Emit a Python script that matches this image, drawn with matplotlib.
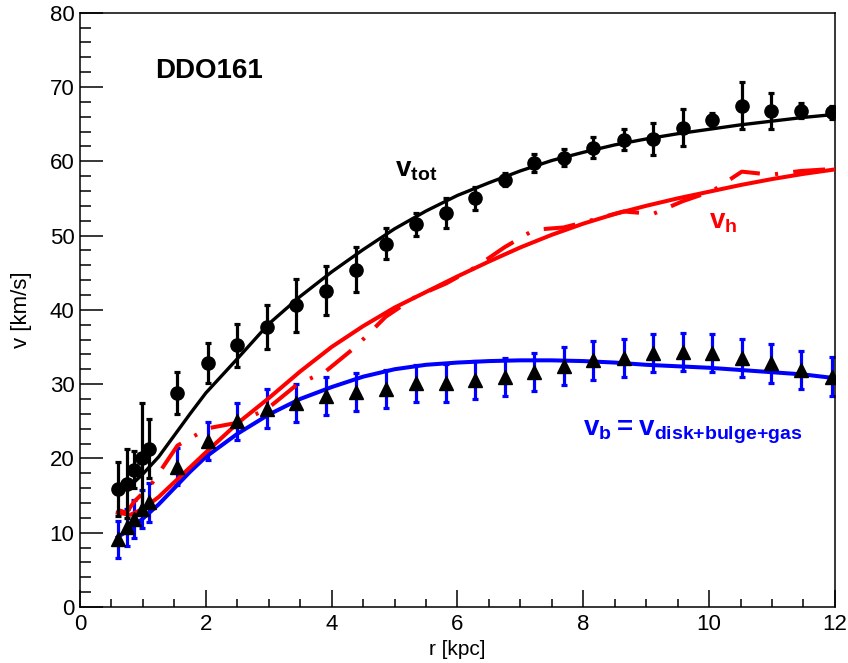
import matplotlib
matplotlib.use("Agg")
import matplotlib.pyplot as plt
from matplotlib.ticker import MultipleLocator

# measured rotation curve of DDO161
r_kpc = [0.61, 0.74, 0.86, 0.98, 1.09, 1.55, 2.03, 2.49, 2.97, 3.44,
         3.91, 4.38, 4.86, 5.34, 5.82, 6.28, 6.75, 7.22, 7.69, 8.16,
         8.64, 9.11, 9.58, 10.05, 10.52, 10.98, 11.46, 11.95]
v_tot = [15.9, 16.6, 18.5, 20.1, 21.3, 28.8, 32.8, 35.2, 37.7, 40.6,
         42.6, 45.4, 48.9, 51.5, 53.0, 55.0, 57.5, 59.8, 60.5, 61.8,
         62.9, 63.0, 64.5, 65.6, 67.5, 66.8, 66.8, 66.6]
v_tot_err = [3.6, 4.6, 2.5, 7.4, 4.0, 2.8, 2.7, 2.9, 3.0, 3.6,
             3.3, 3.0, 2.1, 1.5, 2.0, 1.5, 0.9, 1.2, 1.2, 1.4,
             1.4, 2.2, 2.5, 0.9, 3.2, 2.4, 1.0, 0.9]

# baryonic part (disk + bulge + gas)
v_bar = [9.1, 10.7, 11.9, 13.2, 14.1, 18.9, 22.3, 25.0, 26.7, 27.5,
         28.4, 28.9, 29.4, 30.1, 30.2, 30.6, 31.0, 31.6, 32.4, 33.2,
         33.5, 34.2, 34.3, 34.2, 33.5, 32.8, 31.9, 31.0]
v_bar_err = [2.5, 2.55, 2.55, 2.6, 2.6, 2.5, 2.55, 2.5, 2.6, 2.55,
             2.55, 2.55, 2.55, 2.5, 2.55, 2.55, 2.55, 2.55, 2.55, 2.6,
             2.6, 2.6, 2.6, 2.6, 2.6, 2.6, 2.6, 2.6]

# halo contribution at the measured radii
v_halo = [13.04, 12.69, 14.17, 15.16, 15.97, 21.73, 24.05, 24.78, 26.62, 29.87,
          31.75, 35.01, 39.07, 41.79, 43.55, 45.70, 48.43, 50.77, 51.09, 52.12,
          53.24, 52.91, 54.62, 55.98, 58.60, 58.19, 58.69, 58.95]

# fitted model curves
r_fit = [0.6, 0.8, 1.0, 1.25, 1.5, 1.75, 2.0, 2.5, 3.0, 3.5, 4.0, 4.5, 5.0,
         5.5, 6.0, 6.5, 7.0, 7.5, 8.0, 8.5, 9.0, 9.5, 10.0, 10.5, 11.0,
         11.5, 12.0]
v_tot_fit = [15.8, 16.3, 17.9, 20.2, 23.1, 26.0, 28.8, 33.4, 38.1, 41.8,
             45.1, 48.1, 50.9, 53.3, 55.4, 57.1, 58.7, 60.1, 61.2, 62.2,
             63.0, 63.7, 64.3, 64.9, 65.4, 65.9, 66.3]
v_halo_fit = [12.7, 12.4, 13.2, 14.8, 16.8, 18.8, 20.8, 24.7, 28.1, 31.7,
              35.0, 37.8, 40.3, 42.4, 44.5, 46.5, 48.4, 50.1, 51.6, 52.9,
              54.0, 55.0, 55.9, 56.8, 57.6, 58.3, 58.9]
v_bar_fit = [9.4, 10.5, 11.9, 13.8, 16.0, 18.2, 20.2, 23.3, 25.9, 28.0,
             29.6, 31.0, 32.0, 32.6, 32.9, 33.1, 33.2, 33.2, 33.1, 32.9,
             32.6, 32.4, 32.2, 31.9, 31.6, 31.3, 30.8]

RED = "#ff0000"
BLUE = "#0000ff"

plt.rcParams["font.family"] = ["Liberation Sans", "DejaVu Sans"]
plt.rcParams["mathtext.fontset"] = "custom"
plt.rcParams["mathtext.rm"] = "Liberation Sans"
plt.rcParams["mathtext.bf"] = "Liberation Sans:bold"
plt.rcParams["lines.scale_dashes"] = False


def setup_axes(ax):
    ax.set_xlim(0, 12)
    ax.set_ylim(0, 80)
    ax.xaxis.set_major_locator(MultipleLocator(2))
    ax.xaxis.set_minor_locator(MultipleLocator(0.5))
    ax.yaxis.set_major_locator(MultipleLocator(10))
    ax.yaxis.set_minor_locator(MultipleLocator(2))
    ax.tick_params(axis="both", which="both", direction="in",
                   top=False, right=False, width=1.1, labelsize=16)
    ax.tick_params(axis="y", which="major", length=16.5, pad=4)
    ax.tick_params(axis="y", which="minor", length=8)
    ax.tick_params(axis="x", which="major", length=12, pad=5)
    ax.tick_params(axis="x", which="minor", length=6)
    for sp in ax.spines.values():
        sp.set_linewidth(1.1)

    ax.set_xlabel("r [kpc]", fontsize=15)
    ax.set_ylabel("v [km/s]", fontsize=16)
    ax.xaxis.set_label_coords(0.5, -0.055)
    ax.yaxis.set_label_coords(-0.064, 0.5)


def draw(ax):
    # baryonic points: blue bars, black triangles
    ax.errorbar(r_kpc, v_bar, yerr=v_bar_err, fmt="none", ecolor=BLUE,
                elinewidth=2.3, capsize=2.4, capthick=2.3, zorder=2)

    ax.plot(r_fit, v_bar_fit, color=BLUE, lw=2.9, zorder=3)
    ax.plot(r_fit, v_halo_fit, color=RED, lw=2.9, zorder=3)
    ax.plot(r_kpc, v_halo, color=RED, lw=2.9, zorder=3,
            linestyle=(0, (23, 11, 2.2, 11)))
    ax.plot(r_fit, v_tot_fit, color="black", lw=2.4, zorder=3)

    ax.errorbar(r_kpc, v_tot, yerr=v_tot_err, fmt="o", color="black",
                markersize=9.5, elinewidth=2.3, capsize=2.2, capthick=2.3,
                zorder=4)
    ax.plot(r_kpc, v_bar, "^", color="black", markersize=9.5, zorder=5)

    ax.text(1.2, 71.2, "DDO161", fontsize=20, fontweight="bold")
    ax.text(5.0, 58.0, r"$\mathbf{v}_{\mathbf{tot}}$", fontsize=20)
    ax.text(10.0, 51.0, r"$\mathbf{v}_{\mathbf{h}}$", fontsize=20, color=RED)
    ax.text(8.0, 23.1, r"$\mathbf{v_b = v_{disk{+}bulge{+}gas}}$",
            fontsize=20, color=BLUE)


def main():
    fig = plt.figure(figsize=(8.48, 6.63), dpi=100)
    ax = fig.add_axes([0.0943, 0.0845, 0.8903, 0.8964])
    setup_axes(ax)
    draw(ax)
    fig.savefig("out.png", dpi=100)


if __name__ == "__main__":
    main()
